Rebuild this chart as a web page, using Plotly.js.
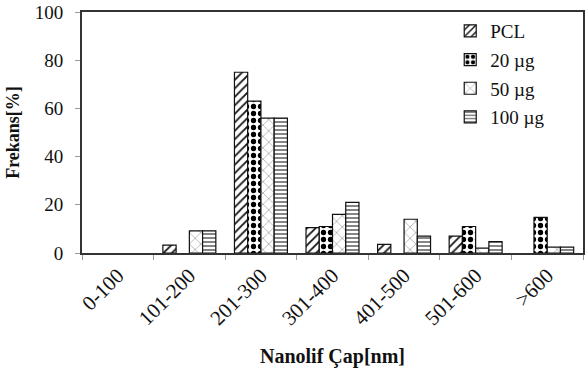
<!DOCTYPE html>
<html>
<head>
<meta charset="utf-8">
<script src="https://cdn.plot.ly/plotly-3.0.1.min.js"></script>
<style>html,body{margin:0;padding:0;background:#fff;}#chart{width:585px;height:376px;}</style>
</head>
<body>
<div id="chart"></div>
<script>
const categories = ["0-100", "101-200", "201-300", "301-400", "401-500", "501-600", ">600"];
const seriesNames = ["PCL", "20 µg", "50 µg", "100 µg"];
const pcl    = [0, 3.3, 75, 10.5, 3.6, 7, 0];
const ug20   = [0, 0, 63, 11, 0, 11, 14.8];
const ug50   = [0, 9.2, 56, 16, 14, 2, 2.4];
const ug100  = [0, 9.2, 56, 21, 7, 4.7, 2.4];
const seriesValues = [pcl, ug20, ug50, ug100];
const patterns = ["/", ".", "x", "-"];

const FONT = "Liberation Serif";
const patternStyle = [
  {fg: "#111", size: 6, solidity: 0.3},
  {fg: "#000", size: 7, solidity: 0.45},
  {fg: "#777", size: 8, solidity: 0.12},
  {fg: "#333", size: 4, solidity: 0.3}
];
const traces = seriesValues.map((vals, i) => ({
  type: "bar",
  name: seriesNames[i],
  x: categories,
  y: vals.map(v => (v === 0 ? null : v)),
  legendgroup: "g" + i,
  marker: {
    color: "white",
    line: {color: "#111", width: 1.2},
    pattern: {shape: patterns[i], fgcolor: patternStyle[i].fg, bgcolor: "white",
              size: patternStyle[i].size, solidity: patternStyle[i].solidity}
  }
}));

const layout = {
  width: 585, height: 376,
  margin: {l: 82, r: 2, t: 12, b: 123},
  paper_bgcolor: "white", plot_bgcolor: "white",
  barmode: "group",
  bargap: 0.26,
  bargroupgap: 0,
  font: {family: FONT, size: 18, color: "#111"},
  showlegend: true,
  legend: {
    x: 0.735, y: 1.0, xanchor: "left", yanchor: "top",
    bgcolor: "rgba(0,0,0,0)", font: {family: FONT, size: 19, color: "#111"},
    tracegroupgap: 1, itemwidth: 30
  },
  xaxis: {
    type: "category",
    showline: true, linecolor: "#333", linewidth: 2, mirror: true,
    ticks: "outside", tickson: "boundaries", ticklen: 5, tickcolor: "#999",
    tickangle: -45, tickfont: {family: FONT, size: 21, color: "#111"},
    showgrid: false,
    title: {text: "<b>Nanolif Çap[nm]</b>", font: {family: FONT, size: 20, color: "#111"}, standoff: 20}
  },
  yaxis: {
    range: [0, 100], dtick: 20,
    showline: true, linecolor: "#333", linewidth: 2, mirror: true,
    ticks: "outside", ticklen: 5, tickcolor: "#999",
    showgrid: false, zeroline: false,
    ticklabelstandoff: 8,
    tickfont: {family: FONT, size: 19, color: "#111"},
    title: {text: "<b>Frekans[%]</b>", font: {family: FONT, size: 18, color: "#111"}, standoff: 10}
  }
};

Plotly.newPlot("chart", traces, layout, {displayModeBar: false, staticPlot: true});
</script>
</body>
</html>
